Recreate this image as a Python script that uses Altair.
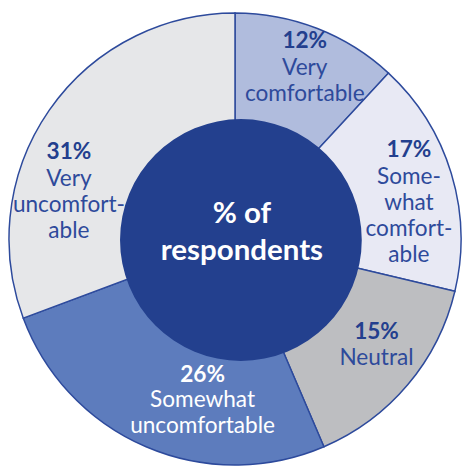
import altair as alt
import pandas as pd

categories = ["Very comfortable", "Somewhat comfortable", "Neutral",
              "Somewhat uncomfortable", "Very uncomfortable"]
values = [12, 17, 15, 26, 31]
pct_labels = ["12%", "17%", "15%", "26%", "31%"]
label_lines = [["Very", "comfortable"],
               ["Some-", "what", "comfort-", "able"],
               ["Neutral"],
               ["Somewhat", "uncomfortable"],
               ["Very", "uncomfort-", "able"]]
center_lines = ["% of", "respondents"]
colors = ["#b0bcdd", "#e8e9f4", "#bdbec1", "#5d7cbd", "#e6e7e9"]

df = pd.DataFrame({"category": categories, "value": values,
                   "order": list(range(len(values)))})

FONT = "Lato"
LABEL_COLOR = "#2e4a9b"
BOLD_COLOR = "#233f8e"
NAVY = "#23408e"

pie = alt.Chart(df).mark_arc(
    outerRadius=230, stroke="#2d4a9c", strokeWidth=1.5
).encode(
    theta=alt.Theta("value:Q", stack=True),
    order=alt.Order("order:Q"),
    color=alt.Color("category:N", scale=alt.Scale(domain=categories, range=colors),
                    legend=None),
    x=alt.value(231), y=alt.value(231),
)

# Vega circle symbol: radius = sqrt(size) / 2
center = alt.Chart(pd.DataFrame({"c": [1]})).mark_circle(
    size=(2 * 123) ** 2, color=NAVY, opacity=1
).encode(x=alt.value(237), y=alt.value(232))

# anchor positions (chart coords): x, y of percent, y of first label line
anchors = [(302, 30, 57.5), (408, 141, 168), (375, 326, 352), (198, 370, 395), (62, 143, 170)]
label_colors = [LABEL_COLOR, LABEL_COLOR, LABEL_COLOR, "white", LABEL_COLOR]
pct_colors = [BOLD_COLOR, BOLD_COLOR, BOLD_COLOR, "white", BOLD_COLOR]

layers = [pie, center]
base = alt.Chart(pd.DataFrame({"c": [1]}))
for i in range(len(values)):
    ax, ay, by = anchors[i]
    layers.append(base.mark_text(
        text=pct_labels[i], font=FONT, fontSize=23, fontWeight="bold",
        color=pct_colors[i], align="center", baseline="middle"
    ).encode(x=alt.value(ax), y=alt.value(ay)))
    layers.append(base.mark_text(
        text=label_lines[i], font=FONT, fontSize=23, lineHeight=26.5,
        color=label_colors[i], align="center", baseline="middle"
    ).encode(x=alt.value(ax), y=alt.value(by)))

layers.append(base.mark_text(
    text=center_lines, font=FONT, fontSize=30, fontWeight="bold", lineHeight=37,
    color="white", align="center", baseline="middle"
).encode(x=alt.value(238), y=alt.value(206)))

chart = alt.layer(*layers).properties(
    width=462, height=462, padding=0, autosize=alt.AutoSizeParams(type="none")
).configure(background="white").configure_view(stroke=None)

chart.save("out.html", embed_options={"renderer": "svg", "actions": False})
